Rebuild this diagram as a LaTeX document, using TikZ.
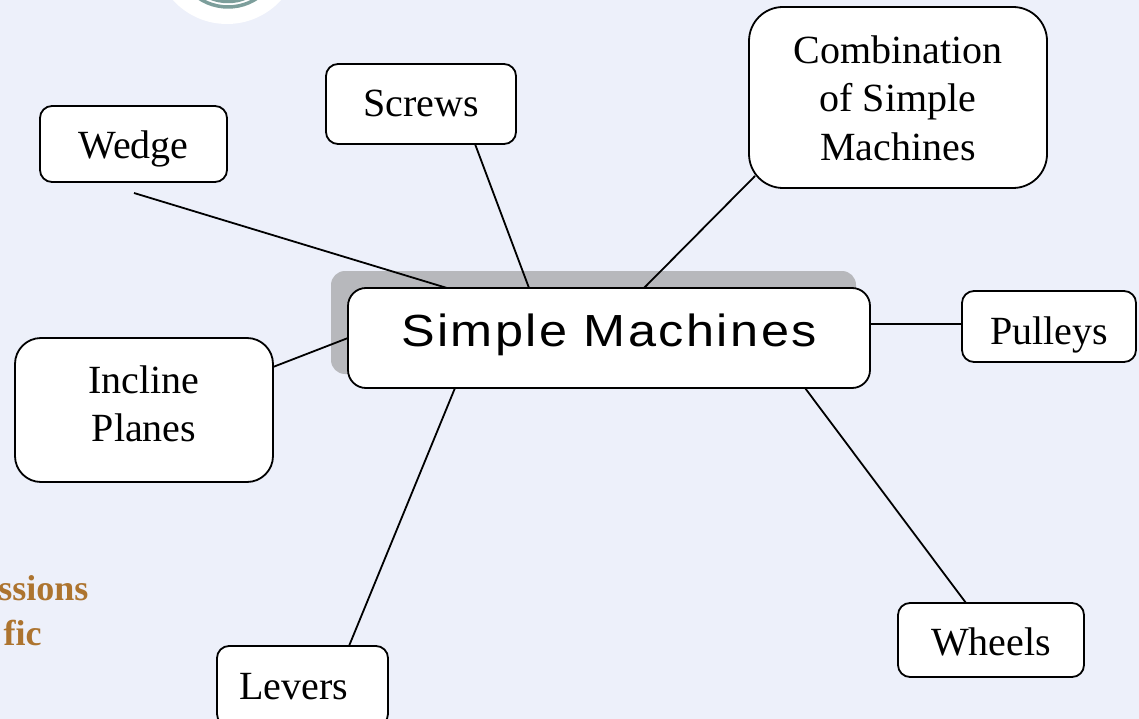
\documentclass[tikz,border=0pt]{standalone}
\usepackage{fontspec}
\usetikzlibrary{calc}
\setmainfont{Liberation Serif}
\newfontfamily\mainlabel[LetterSpace=5.5,FakeStretch=1.12]{Liberation Sans}
\definecolor{pagebg}{HTML}{EDF0FA}
\definecolor{shadowgrey}{HTML}{B7B8BC}
\definecolor{brownish}{HTML}{AD742F}
\definecolor{ringteal}{HTML}{7C9E9B}
\newcommand{\nudge}[2]{\raisebox{#1}[0pt][0pt]{#2}}
\newcommand{\lines}[1]{\begin{tabular}[c]{@{}c@{}}#1\end{tabular}}
\tikzset{
  x=1pt,y=-1pt,
  box/.style={draw=black,line width=1.8pt,fill=white,inner sep=0pt,outer sep=0pt,
    align=center,font=\fontsize{40}{48.5}\selectfont,text=black},
  link/.style={draw=black,line width=1.8pt,line cap=butt},
  cliptext/.style={inner sep=0pt,outer sep=0pt,anchor=base east,text=brownish,
    font=\fontsize{36}{42}\selectfont\bfseries}
}
\begin{document}
\begin{tikzpicture}
\useasboundingbox (0,0) rectangle (1139,719);
\clip (0,0) rectangle (1139,719);
\fill[pagebg] (0,0) rectangle (1139,719);
% logo fragment
\fill[white] (227,-49) circle [radius=73pt];
\draw[ringteal,line width=3.5pt] (228,-45.5) circle [radius=52.5pt];
\draw[ringteal,line width=3.5pt] (228,-45.5) circle [radius=47pt];
% labels cut by the left edge
\node[cliptext] (t1) at (88.5,600) {ssions};
\node[cliptext] (t2) at (41.5,645) {fic};
% shadow
\fill[shadowgrey,rounded corners=14pt] (331,271) rectangle (856,374);
% nodes
\node[box,rounded corners=18pt,minimum width=522pt,minimum height=100pt] (main) at (609,338)
  {\nudge{-8pt}{\fontsize{45}{50}\selectfont\mainlabel Simple Machines}};
\node[box,rounded corners=12pt,minimum width=187pt,minimum height=76pt] (wedge) at (133.5,144) {\nudge{-15pt}{Wedge}};
\node[box,rounded corners=12pt,minimum width=190pt,minimum height=80pt] (screws) at (421,104) {\nudge{-13pt}{Screws}};
\node[box,rounded corners=34pt,minimum width=298pt,minimum height=181pt] (combo) at (898,97.5) {\nudge{-11pt}{\lines{Combination\\of Simple\\Machines}}};
\node[box,rounded corners=12pt,minimum width=174pt,minimum height=71pt] (pulleys) at (1049,326.5) {\nudge{-17.5pt}{Pulleys}};
\node[box,rounded corners=26pt,minimum width=258pt,minimum height=144pt] (incline) at (144,410) {\nudge{-4pt}{\lines{Incline\\Planes}}};
\node[box,rounded corners=12pt,minimum width=186pt,minimum height=74pt] (wheels) at (991,640) {\nudge{-15pt}{Wheels}};
\node[box,rounded corners=12pt,minimum width=171pt,minimum height=80pt] (levers) at (302.5,686) {\nudge{-13pt}{Levers\hspace{18pt}}};
% connectors
\coordinate (wedgeend) at (134,193);
\draw[link] (wedgeend) -- ($(main.north west)+(99,0)$);
\draw[link] ($(screws.south west)+(149,0)$) -- ($(main.north west)+(181,0)$);
\draw[link] ($(combo.south west)+(6,-12)$) -- ($(main.north west)+(296,0)$);
\draw[link] ($(pulleys.north west)+(0,33)$) -- ($(main.north east)+(0,36)$);
\draw[link] ($(incline.north east)+(0,29)$) -- ($(main.north west)+(0,50)$);
\draw[link] ($(levers.north west)+(132,0)$) -- ($(main.south west)+(107,0)$);
\draw[link] ($(wheels.north west)+(68,0)$) -- ($(main.south west)+(457,0)$);
\end{tikzpicture}
\end{document}
